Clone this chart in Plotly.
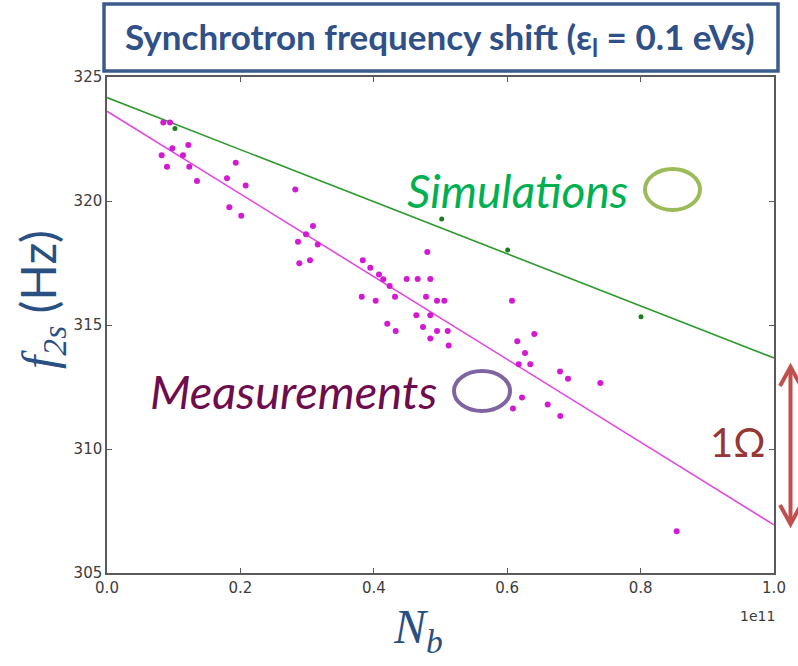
import plotly.graph_objects as go

# Bunch intensity N_b in units of 1e11, synchrotron frequency f_2s in Hz
meas_nb = [0.0844, 0.0945, 0.0979, 0.1219, 0.0820, 0.1139, 0.0900, 0.1234, 0.1349,
           0.1930, 0.1799, 0.2079, 0.2823, 0.1834, 0.2013, 0.3088, 0.2984, 0.2864,
           0.3159, 0.2883, 0.3043, 0.3834, 0.3948, 0.4078, 0.4142, 0.4238, 0.3819,
           0.4028, 0.4318, 0.4802, 0.4493, 0.4658, 0.4847, 0.4783, 0.4948, 0.5057,
           0.4637, 0.4847, 0.4202, 0.4328, 0.4738, 0.4948, 0.5108, 0.4847, 0.5123,
           0.6072, 0.6151, 0.6406, 0.6267, 0.6172, 0.6346, 0.6792, 0.6912, 0.7396,
           0.6222, 0.6087, 0.6607, 0.6796, 0.8541]
meas_f2s = [323.17, 323.17, 322.13, 322.26, 321.84, 321.84, 321.38, 321.38, 320.81,
            321.54, 320.92, 320.62, 320.46, 319.75, 319.41, 318.99, 318.66, 318.36,
            318.25, 317.49, 317.61, 317.61, 317.31, 317.04, 316.84, 316.57, 316.14,
            315.98, 316.14, 317.94, 316.85, 316.85, 316.85, 316.14, 315.98, 315.98,
            315.39, 315.39, 315.05, 314.76, 314.92, 314.76, 314.76, 314.46, 314.17,
            315.98, 314.34, 314.64, 313.87, 313.42, 313.42, 313.13, 312.83, 312.66,
            312.08, 311.63, 311.79, 311.33, 306.68]

sim_nb = [0.1019, 0.5018, 0.6007, 0.8006]
sim_f2s = [322.92, 319.27, 318.02, 315.33]

# Linear fits evaluated at the ends of the intensity range
fit_nb = [0.0, 1.0]
sim_fit = [324.17, 313.67]
meas_fit = [323.62, 306.94]

x_ticks = [0.0, 0.2, 0.4, 0.6, 0.8, 1.0]
x_tick_text = ["0.0", "0.2", "0.4", "0.6", "0.8", "1.0"]
y_ticks = [305, 310, 315, 320, 325]
y_tick_text = ["305", "310", "315", "320", "325"]

W_FIG, H_FIG = 798, 666
M_L, M_R, M_T, M_B = 107, 24, 77, 93
PW = W_FIG - M_L - M_R
PH = H_FIG - M_T - M_B


def px(x):
    """pixel column -> paper x"""
    return (x - M_L) / PW


def py(y):
    """pixel row -> paper y"""
    return (H_FIG - M_B - y) / PH


fig = go.Figure()

fig.add_trace(go.Scatter(x=fit_nb, y=sim_fit, mode="lines",
                         line=dict(color="#2e9a2e", width=1.6),
                         hoverinfo="skip", showlegend=False))
fig.add_trace(go.Scatter(x=fit_nb, y=meas_fit, mode="lines",
                         line=dict(color="#e04ae0", width=1.6),
                         hoverinfo="skip", showlegend=False))
fig.add_trace(go.Scatter(x=meas_nb, y=meas_f2s, mode="markers",
                         marker=dict(color="#d21ad2", size=6, line=dict(width=0)),
                         name="Measurements", showlegend=False))
fig.add_trace(go.Scatter(x=sim_nb, y=sim_f2s, mode="markers",
                         marker=dict(color="#1c7d1c", size=5, line=dict(width=0)),
                         name="Simulations", showlegend=False))

axis_common = dict(showgrid=False, zeroline=False, showline=True, mirror="ticks",
                   linecolor="#5a5a5a", linewidth=1.5, ticks="inside", ticklen=5,
                   tickcolor="#5a5a5a", tickwidth=1,
                   tickfont=dict(family="DejaVu Sans", size=15, color="#3c3c3c"))

fig.update_xaxes(range=[0, 1], tickvals=x_ticks, ticktext=x_tick_text, **axis_common)
fig.update_yaxes(range=[305, 325], tickvals=y_ticks, ticktext=y_tick_text, **axis_common)

shapes = []
annotations = []

# Title box
shapes.append(dict(type="rect", xref="paper", yref="paper",
                   x0=px(104), x1=px(778), y0=py(71), y1=py(4),
                   line=dict(color="#3b5b8c", width=3.5), fillcolor="white"))
annotations.append(dict(xref="paper", yref="paper", x=px(440), y=py(38),
                        text="Synchrotron frequency shift (ε<sub>l</sub> = 0.1 eVs)",
                        showarrow=False, xanchor="center", yanchor="middle",
                        font=dict(family="Lato", size=35, color="#2f5088", weight="bold")))

# Series labels with ellipse markers
annotations.append(dict(xref="paper", yref="paper", x=px(517), y=py(190),
                        text="<i>Simulations</i>", showarrow=False,
                        xanchor="center", yanchor="middle",
                        font=dict(family="Lato", size=46, color="#00b050")))
shapes.append(dict(type="circle", xref="paper", yref="paper",
                   x0=px(645), x1=px(700), y0=py(210), y1=py(169),
                   line=dict(color="#9bbb59", width=4)))

annotations.append(dict(xref="paper", yref="paper", x=px(293), y=py(391),
                        text="<i>Measurements</i>", showarrow=False,
                        xanchor="center", yanchor="middle",
                        font=dict(family="Lato", size=47, color="#6e0c4e")))
shapes.append(dict(type="circle", xref="paper", yref="paper",
                   x0=px(454), x1=px(510), y0=py(411), y1=py(371),
                   line=dict(color="#8064a2", width=4)))

# 1 Ohm span arrow
annotations.append(dict(xref="paper", yref="paper", x=px(738), y=py(442),
                        text="1Ω", showarrow=False, xanchor="center", yanchor="middle",
                        font=dict(family="Lato", size=40, color="#953735")))
arrow_col = "#c0504d"
shapes.append(dict(type="line", xref="paper", yref="paper",
                   x0=px(790.5), x1=px(790.5), y0=py(368), y1=py(523),
                   line=dict(color=arrow_col, width=4)))
shapes.append(dict(type="path", xref="paper", yref="paper",
                   path=f"M {px(780)},{py(386)} L {px(790.5)},{py(367)} L {px(801)},{py(386)}",
                   line=dict(color=arrow_col, width=4)))
shapes.append(dict(type="path", xref="paper", yref="paper",
                   path=f"M {px(780)},{py(505)} L {px(790.5)},{py(524)} L {px(801)},{py(505)}",
                   line=dict(color=arrow_col, width=4)))

# Axis titles and offset text
annotations.append(dict(xref="paper", yref="paper", x=px(41), y=py(300),
                        text="<i>f</i><sub><i>2s</i></sub><span style=\"font-family:Lato\"> (Hz)</span>",
                        textangle=-90, showarrow=False, xanchor="center", yanchor="middle",
                        font=dict(family="Liberation Serif", size=48, color="#2a4f82")))
annotations.append(dict(xref="paper", yref="paper", x=px(418), y=py(630),
                        text="<i>N</i><sub><i>b</i></sub>", showarrow=False,
                        xanchor="center", yanchor="middle",
                        font=dict(family="Liberation Serif", size=48, color="#2a4f82")))
annotations.append(dict(xref="paper", yref="paper", x=px(777), y=py(616),
                        text="1e11", showarrow=False, xanchor="right", yanchor="middle",
                        font=dict(family="DejaVu Sans", size=14, color="#3c3c3c")))

fig.update_layout(width=W_FIG, height=H_FIG,
                  margin=dict(l=M_L, r=M_R, t=M_T, b=M_B),
                  paper_bgcolor="white", plot_bgcolor="white",
                  shapes=shapes, annotations=annotations)

fig.write_html("out.html")
